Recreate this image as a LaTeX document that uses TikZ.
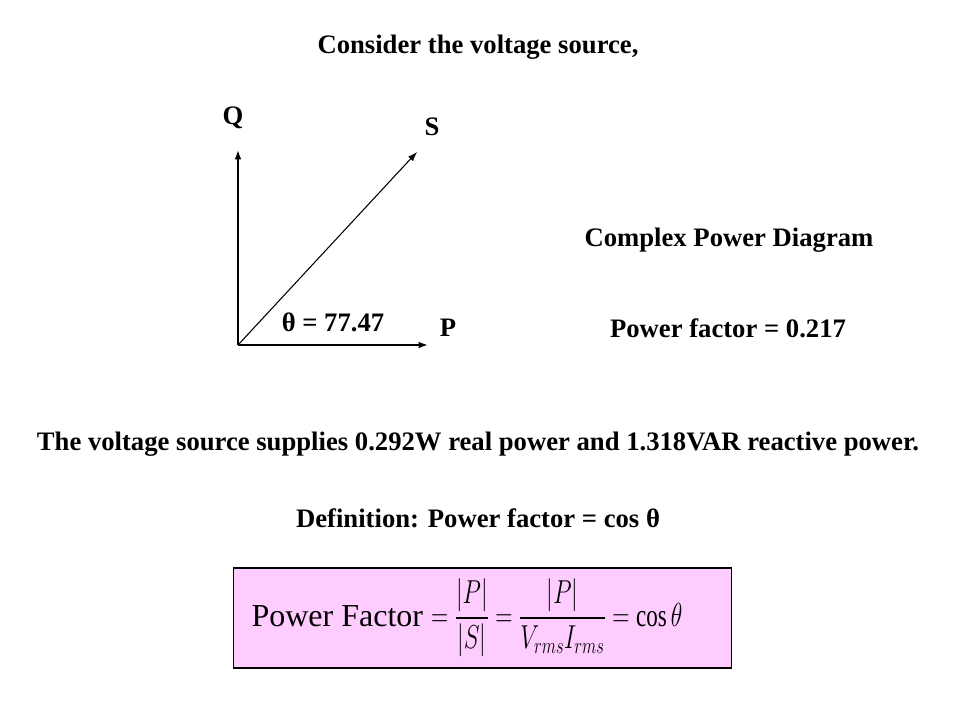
\documentclass[tikz,border=0pt]{standalone}
\usepackage{amsmath}
\usepackage{fontspec}
\setmainfont{Liberation Serif}
\usetikzlibrary{arrows.meta,positioning}
\definecolor{pfpink}{RGB}{255,204,255}
\tikzset{
    lbl/.style={font=\fontsize{20}{24}\selectfont\bfseries, inner sep=0pt},
    axis/.style={-{Latex[length=7pt,width=5pt]}, line width=1.1pt},
    vec/.style={-{Latex[length=7pt,width=5pt]}, line width=0.8pt}}

\begin{document}
\begin{tikzpicture}[x=0.75pt,y=-0.75pt]
\useasboundingbox (0,0) rectangle (960,720);
\coordinate (O) at (238,345);
\coordinate (Qtip) at (238,150);
\coordinate (Ptip) at (428,345);
\coordinate (Stip) at (417,152);

%heading
\node[lbl] (head) at (478,47) {Consider the voltage source,};

%power triangle
\draw[axis] (O)--(Qtip);
\draw[axis] (O)--(Ptip);
\draw[vec] (O)--(Stip);
\node[lbl] (Q) at (233,118) {Q};
\node[lbl] (S) at (432,127) {S};
\node[lbl] (P) at (448,328) {P};
\node[lbl] (theta) at (333,322) {θ = 77.47};

%right side
\node[lbl] (title) at (729,240) {Complex Power Diagram};
\node[lbl] (pf) at (728,328) {Power factor = 0.217};

%text
\node[lbl] (supply) at (478,444) {The voltage source supplies 0.292W real power and 1.318VAR reactive power.};
\node[lbl] (defn) at (478,518) {Definition: Power factor = cos θ};

%formula
\node[draw, fill=pfpink, line width=0.8pt, minimum width=374pt, minimum height=75pt, inner sep=0pt] (box) at (482.5,618) {};
\node[font=\fontsize{24}{28}\selectfont, inner sep=0pt] (formula) at (467,618)
  {Power Factor\hspace{6pt}\scalebox{0.72}[1]{$\displaystyle = \frac{\left|P\right|}{\left|S\right|} = \frac{\left|P\right|}{V_{rms}I_{rms}} = \cos\theta$}};

\end{tikzpicture}
\end{document}
